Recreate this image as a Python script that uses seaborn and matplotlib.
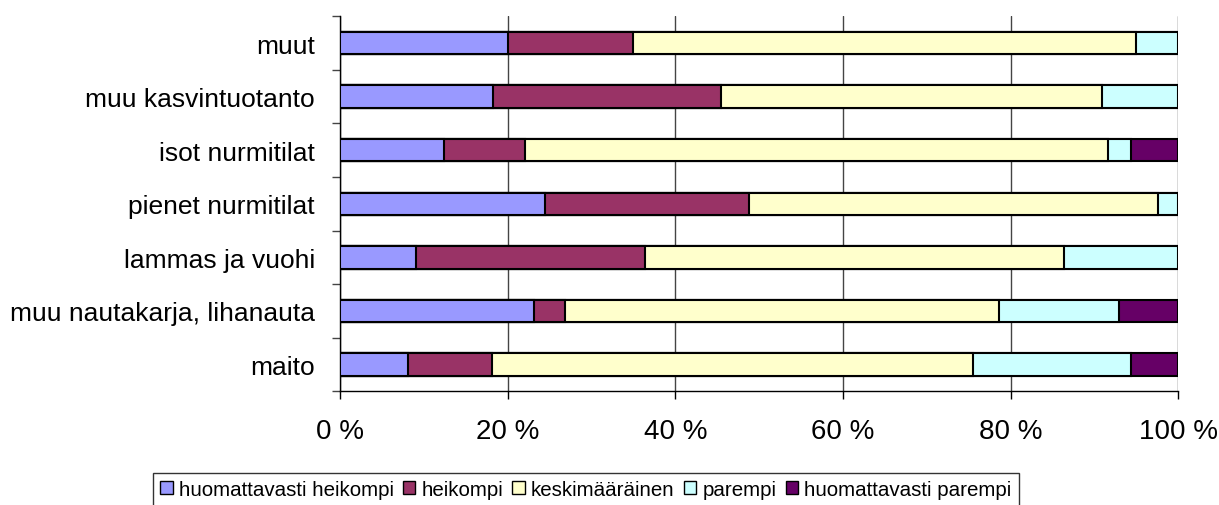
import matplotlib
matplotlib.use("Agg")
import matplotlib.pyplot as plt
import seaborn as sns
import pandas as pd
import numpy as np
from matplotlib.patches import Patch
from matplotlib.ticker import FixedLocator

categories = ["muut", "muu kasvintuotanto", "isot nurmitilat", "pienet nurmitilat",
              "lammas ja vuohi", "muu nautakarja, lihanauta", "maito"]
series = ["huomattavasti heikompi", "heikompi", "keskimääräinen", "parempi", "huomattavasti parempi"]
huom_heikompi = [20.0, 18.2, 12.4, 24.4, 9.1, 23.2, 8.1]
heikompi = [15.0, 27.3, 9.7, 24.4, 27.3, 3.6, 10.0]
keskimaarainen = [60.0, 45.4, 69.5, 48.8, 50.0, 51.8, 57.4]
parempi = [5.0, 9.1, 2.7, 2.4, 13.6, 14.3, 18.8]
huom_parempi = [0.0, 0.0, 5.7, 0.0, 0.0, 7.1, 5.7]
x_ticks = [0, 20, 40, 60, 80, 100]
x_labels = ["0 %", "20 %", "40 %", "60 %", "80 %", "100 %"]

colors = ["#9999FF", "#993366", "#FFFFCC", "#CCFFFF", "#660066"]

sns.set_theme(style="white")
plt.rcParams["font.family"] = ["Liberation Sans", "DejaVu Sans"]
plt.rcParams["text.color"] = "black"
plt.rcParams["xtick.color"] = "black"
plt.rcParams["ytick.color"] = "black"
plt.rcParams["xtick.labelcolor"] = "black"
plt.rcParams["ytick.labelcolor"] = "black"

vals = np.array([huom_heikompi, heikompi, keskimaarainen, parempi, huom_parempi], dtype=float)
totals = vals.sum(axis=0)
pct = vals / totals * 100
cum = np.cumsum(pct, axis=0)

fig = plt.figure(figsize=(12.19, 5.06), dpi=100)
ax = fig.add_axes([340 / 1219, 1 - 392.3 / 506, (1178.3 - 340) / 1219, (392.3 - 17.3) / 506])

for k in range(len(series) - 1, -1, -1):
    df = pd.DataFrame({"cat": categories, "val": cum[k]})
    sns.barplot(data=df, x="val", y="cat", order=categories, color=colors[k],
                width=0.42, edgecolor="black", linewidth=1.5, saturation=1,
                ax=ax, zorder=3)

ax.set_xlim(0, 100)
ax.set_ylim(6.5, -0.5)
ax.set_xticks(x_ticks)
ax.set_xticklabels(x_labels, fontsize=20)
ax.set_xlabel("")
ax.set_ylabel("")
ax.grid(axis="x", color="#444444", linewidth=1.0, zorder=0)
ax.set_axisbelow(True)
for s in ["top", "right"]:
    ax.spines[s].set_visible(False)
for s in ["left", "bottom"]:
    ax.spines[s].set_visible(True)
    ax.spines[s].set_color("black")
    ax.spines[s].set_linewidth(1.0)

ax.tick_params(axis="y", which="major", length=0, pad=18, labelsize=19)
ax.yaxis.set_minor_locator(FixedLocator(np.arange(-0.5, 7, 1)))
ax.tick_params(axis="y", which="minor", length=6, width=1, color="#444444", direction="out", left=True)
ax.tick_params(axis="x", which="major", length=6, width=1, color="black", direction="out", bottom=True, pad=13)

handles = [Patch(facecolor=c, edgecolor="black", linewidth=1.0) for c in colors]
leg = fig.legend(handles, series, loc="upper left", bbox_to_anchor=(153 / 1219, 1 - 474 / 506),
                 ncol=5, fontsize=14.8, frameon=True, fancybox=False, edgecolor="black",
                 handlelength=0.6, handleheight=0.6, handletextpad=0.3, columnspacing=0.45,
                 borderpad=0.35, borderaxespad=0)
leg.get_frame().set_linewidth(1.0)

fig.savefig("out.png", dpi=100)
